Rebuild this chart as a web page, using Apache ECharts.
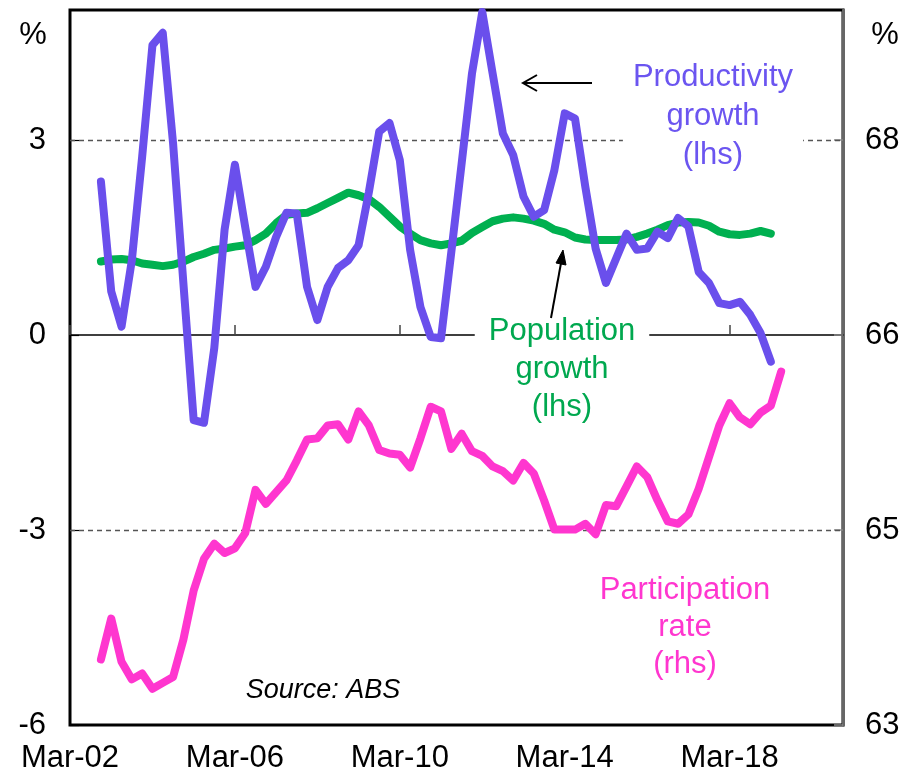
<!DOCTYPE html>
<html>
<head>
<meta charset="utf-8">
<script src="https://cdn.jsdelivr.net/npm/echarts@6/dist/echarts.min.js"></script>
<style>
html,body{margin:0;padding:0;background:#fff;}
#chart{width:913px;height:779px;}
</style>
</head>
<body>
<div id="chart"></div>
<script>
// Quarter categories Mar-02 .. Dec-20
const months = ['Mar', 'Jun', 'Sep', 'Dec'];
const years = ['02','03','04','05','06','07','08','09','10','11','12','13','14','15','16','17','18','19','20'];
const categories = [];
years.forEach(y => months.forEach(m => categories.push(m + '-' + y)));
const xTickLabels = ['Mar-02', 'Mar-06', 'Mar-10', 'Mar-14', 'Mar-18'];

const seriesStart = 'Dec-02';

// Productivity growth, % (lhs)
const productivity = [
  2.36,0.67,0.13,1.15,2.74,4.46,4.65,2.95,0.8,-1.31,
  -1.35,-0.2,1.62,2.62,1.66,0.74,1.05,1.51,1.88,1.87,
  0.74,0.23,0.74,1.03,1.15,1.38,2.2,3.13,3.26,2.69,
  1.31,0.43,-0.03,-0.05,1.28,2.64,4.02,4.97,4.03,3.1,
  2.77,2.13,1.82,1.92,2.54,3.41,3.33,2.28,1.33,0.8,
  1.18,1.56,1.31,1.33,1.59,1.49,1.8,1.67,0.97,0.8,
  0.49,0.46,0.51,0.31,0.03,-0.41
];
// Population growth, % (lhs)
const population = [
  1.13,1.16,1.17,1.15,1.1,1.08,1.06,1.08,1.13,1.2,
  1.25,1.31,1.33,1.36,1.38,1.46,1.56,1.72,1.85,1.87,
  1.88,1.95,2.03,2.11,2.19,2.15,2.09,1.97,1.82,1.67,
  1.56,1.46,1.41,1.38,1.41,1.45,1.57,1.66,1.75,1.79,
  1.81,1.79,1.76,1.71,1.62,1.58,1.5,1.47,1.46,1.46,
  1.46,1.47,1.51,1.56,1.62,1.69,1.73,1.74,1.73,1.68,
  1.59,1.55,1.54,1.56,1.6,1.56
];
// Participation rate, % (rhs)
const participation = [
  63.56,63.91,63.54,63.39,63.44,63.31,63.36,63.41,63.73,64.15,
  64.42,64.55,64.47,64.51,64.64,65.01,64.89,64.99,65.09,65.26,
  65.44,65.45,65.56,65.57,65.44,65.68,65.56,65.35,65.32,65.31,
  65.2,65.45,65.72,65.68,65.36,65.49,65.34,65.3,65.21,65.17,
  65.09,65.24,65.15,64.92,64.67,64.67,64.67,64.72,64.63,64.88,
  64.87,65.04,65.21,65.12,64.92,64.74,64.72,64.8,65.02,65.29,
  65.56,65.75,65.63,65.57,65.67,65.73,66.02
];

// Axis tick values
const leftTicks = [-6, -3, 0, 3];
const rightTicks = [63, 63 + 5/3, 63 + 10/3, 68];
const leftMin = -6, leftMax = 5;
const rightMin = 63, rightMax = 63 + 55/9;

const FONT = '"Liberation Sans", Arial, sans-serif';
const PURPLE = '#6A4FEC';
const GREEN = '#00B050';
const PINK = '#FF36CF';

const startIdx = categories.indexOf(seriesStart);
const toPairs = arr => arr.map((v, i) => [categories[startIdx + i], v]);
const isTickCat = (idx) => xTickLabels.indexOf(categories[idx]) >= 0;

const chart = echarts.init(document.getElementById('chart'), null, {renderer: 'canvas'});

const option = {
  animation: false,
  backgroundColor: '#fff',
  grid: {left: 70, right: 70, top: 10, bottom: 54, show: true, borderColor: '#000', borderWidth: 3, backgroundColor: 'transparent'},
  xAxis: [
    {
      type: 'category', data: categories, boundaryGap: false, position: 'bottom',
      axisLine: {show: false, onZero: false},
      axisTick: {show: false},
      axisLabel: {interval: (idx) => isTickCat(idx), fontSize: 31, fontFamily: FONT, color: '#000', margin: 18, hideOverlap: false},
      splitLine: {show: false}
    },
    {
      type: 'category', data: categories, boundaryGap: false, position: 'bottom',
      axisLine: {show: true, onZero: true, onZeroAxisIndex: 0, lineStyle: {color: '#000', width: 1.5}},
      axisTick: {show: true, inside: true, interval: (idx) => isTickCat(idx), length: 10, lineStyle: {color: '#444', width: 1.5}},
      axisLabel: {show: false},
      splitLine: {show: false}
    }
  ],
  yAxis: [
    {
      type: 'value', min: leftMin, max: leftMax, position: 'left',
      axisLine: {show: false},
      axisTick: {show: true, inside: true, length: 9, customValues: leftTicks, lineStyle: {color: '#000', width: 1.2}},
      axisLabel: {customValues: leftTicks, fontSize: 31, fontFamily: FONT, color: '#000', margin: 24},
      splitLine: {show: false}
    },
    {
      type: 'value', min: rightMin, max: rightMax, position: 'right',
      axisLine: {show: true, lineStyle: {color: '#666', width: 3}},
      axisTick: {show: true, inside: true, length: 9, customValues: rightTicks, lineStyle: {color: '#888', width: 1.5}},
      axisLabel: {customValues: rightTicks, fontSize: 31, fontFamily: FONT, color: '#000', margin: 22,
        formatter: v => String(Math.round(v))},
      splitLine: {show: false}
    }
  ],
  series: [
    {
      name: 'Population growth', type: 'line', xAxisIndex: 0, yAxisIndex: 0,
      data: toPairs(population), showSymbol: false, symbol: 'none',
      lineStyle: {color: GREEN, width: 8, cap: 'round', join: 'round'}, z: 3
    },
    {
      name: 'Productivity growth', type: 'line', xAxisIndex: 0, yAxisIndex: 0,
      data: toPairs(productivity), showSymbol: false, symbol: 'none',
      lineStyle: {color: PURPLE, width: 8, cap: 'round', join: 'round'}, z: 4,
      markLine: {
        silent: true, symbol: 'none', label: {show: false},
        lineStyle: {color: '#555', type: [5, 4], width: 1.3},
        data: [{yAxis: 3}, {yAxis: -3}],
        z: 1
      }
    },
    {
      name: 'Participation rate', type: 'line', xAxisIndex: 0, yAxisIndex: 1,
      data: toPairs(participation), showSymbol: false, symbol: 'none',
      lineStyle: {color: PINK, width: 8, cap: 'round', join: 'round'}, z: 5
    }
  ],
  graphic: [
    {type: 'text', x: 33, y: 35, z: 50, style: {text: '%', font: '31px ' + FONT, fill: '#000', align: 'center', verticalAlign: 'middle'}},
    {type: 'text', x: 885, y: 35, z: 50, style: {text: '%', font: '31px ' + FONT, fill: '#000', align: 'center', verticalAlign: 'middle'}},
    {type: 'text', x: 713, y: 116, z: 50, style: {text: 'Productivity\ngrowth\n(lhs)', font: '31px ' + FONT, fill: '#6B55F0', align: 'center', verticalAlign: 'middle', lineHeight: 39, backgroundColor: '#fff', padding: [2, 10, 2, 10]}},
    {type: 'text', x: 562, y: 369, z: 50, style: {text: 'Population\ngrowth\n(lhs)', font: '31px ' + FONT, fill: '#00A84F', align: 'center', verticalAlign: 'middle', lineHeight: 38, backgroundColor: '#fff', padding: [2, 14, 2, 14]}},
    {type: 'text', x: 685, y: 627, z: 50, style: {text: 'Participation\nrate\n(rhs)', font: '31px ' + FONT, fill: PINK, align: 'center', verticalAlign: 'middle', lineHeight: 37}},
    {type: 'text', x: 323, y: 690, z: 50, style: {text: 'Source: ABS', font: 'italic 27px ' + FONT, fill: '#000', align: 'center', verticalAlign: 'middle'}},
    // arrow to productivity line
    {type: 'line', z: 50, shape: {x1: 592, y1: 83, x2: 523, y2: 83}, style: {stroke: '#000', lineWidth: 2}},
    {type: 'polyline', z: 50, shape: {points: [[537, 75], [523, 83], [537, 91]]}, style: {stroke: '#000', lineWidth: 2, fill: null}},
    // arrow to population line
    {type: 'line', z: 50, shape: {x1: 551, y1: 318, x2: 563, y2: 252}, style: {stroke: '#000', lineWidth: 2}},
    {type: 'polygon', z: 50, shape: {points: [[563, 250], [566, 265], [556, 263]]}, style: {fill: '#000', stroke: '#000', lineWidth: 1}}
  ]
};
chart.setOption(option);
</script>
</body>
</html>
